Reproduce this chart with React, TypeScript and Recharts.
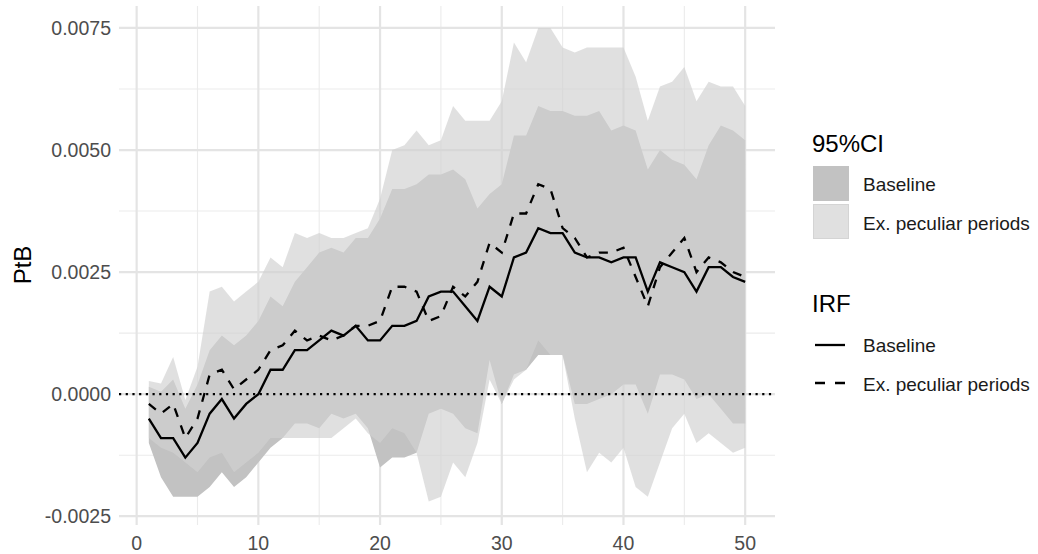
import React from 'react';
import { ComposedChart, Area, Line, XAxis, YAxis, CartesianGrid, ReferenceLine } from 'recharts';

const font = '"Liberation Sans", Arial, Helvetica, sans-serif';

// horizon (steps after the shock)
const steps = [
  1, 2, 3, 4, 5, 6, 7, 8, 9, 10,
  11, 12, 13, 14, 15, 16, 17, 18, 19, 20,
  21, 22, 23, 24, 25, 26, 27, 28, 29, 30,
  31, 32, 33, 34, 35, 36, 37, 38, 39, 40,
  41, 42, 43, 44, 45, 46, 47, 48, 49, 50,
];

// IRF, baseline (solid)
const irfBaseline = [
  -0.0005, -0.0009, -0.0009, -0.0013, -0.0010, -0.0004, -0.0001, -0.0005, -0.0002, 0.0000,
  0.0005, 0.0005, 0.0009, 0.0009, 0.0011, 0.0013, 0.0012, 0.0014, 0.0011, 0.0011,
  0.0014, 0.0014, 0.0015, 0.0020, 0.0021, 0.0021, 0.0018, 0.0015, 0.0022, 0.0020,
  0.0028, 0.0029, 0.0034, 0.0033, 0.0033, 0.0029, 0.0028, 0.0028, 0.0027, 0.0028,
  0.0028, 0.0021, 0.0027, 0.0026, 0.0025, 0.0021, 0.0026, 0.0026, 0.0024, 0.0023,
];

// IRF, ex. peculiar periods (dashed)
const irfExPeculiar = [
  -0.0002, -0.0004, -0.0002, -0.0009, -0.0005, 0.0004, 0.0005, 0.0001, 0.0003, 0.0005,
  0.0009, 0.0010, 0.0013, 0.0011, 0.0012, 0.0011, 0.0012, 0.0014, 0.0014, 0.0015,
  0.0022, 0.0022, 0.0021, 0.0015, 0.0016, 0.0022, 0.0020, 0.0023, 0.0031, 0.0029,
  0.0037, 0.0037, 0.0043, 0.0042, 0.0034, 0.0032, 0.0028, 0.0029, 0.0029, 0.0030,
  0.0024, 0.0018, 0.0026, 0.0029, 0.0032, 0.0025, 0.0028, 0.0027, 0.0025, 0.0024,
];

// 95% CI, baseline
const baseUpper = [
  0.00015, 0.00005, 0.0003, -0.0003, 0.0002, 0.0009, 0.0012, 0.0010, 0.0012, 0.0015,
  0.0020, 0.0018, 0.0023, 0.0026, 0.0029, 0.0030, 0.0029, 0.0032, 0.0032, 0.0036,
  0.0042, 0.0042, 0.0043, 0.0045, 0.0045, 0.0046, 0.0044, 0.0038, 0.0041, 0.0043,
  0.0053, 0.0053, 0.0059, 0.0058, 0.0058, 0.0057, 0.0057, 0.0058, 0.0054, 0.0055,
  0.0054, 0.0046, 0.0050, 0.0048, 0.0047, 0.0044, 0.0051, 0.0055, 0.0054, 0.0052,
];
const baseLower = [
  -0.0010, -0.0017, -0.0021, -0.0021, -0.0021, -0.0019, -0.0016, -0.0019, -0.0017, -0.0014,
  -0.0011, -0.0009, -0.0006, -0.0006, -0.0007, -0.0004, -0.0005, -0.0004, -0.0007, -0.0015,
  -0.0013, -0.0013, -0.0012, -0.0004, -0.0003, -0.0004, -0.0007, -0.0008, 0.0007, -0.0002,
  0.0004, 0.0005, 0.0008, 0.0008, 0.0008, -0.0002, -0.0002, -0.0001, 0.0000, 0.0002,
  0.0002, -0.0004, 0.0004, 0.0004, 0.0003, -0.0001, 0.0000, -0.0003, -0.0006, -0.0006,
];

// 95% CI, ex. peculiar periods
const exUpper = [
  0.00027, 0.00022, 0.00076, -0.00012, 0.00056, 0.0021, 0.0022, 0.0019, 0.0021, 0.0023,
  0.0028, 0.0026, 0.0033, 0.0032, 0.0033, 0.0032, 0.0032, 0.0033, 0.0034, 0.0040,
  0.0050, 0.0051, 0.0054, 0.0051, 0.0052, 0.0059, 0.0056, 0.0056, 0.0056, 0.0060,
  0.0072, 0.0068, 0.0075, 0.0075, 0.0071, 0.0070, 0.0071, 0.0071, 0.0071, 0.0071,
  0.0065, 0.0056, 0.0063, 0.0064, 0.0067, 0.0060, 0.0064, 0.0063, 0.0063, 0.0059,
];
const exLower = [
  -0.0009, -0.0011, -0.0012, -0.0014, -0.0016, -0.0013, -0.0012, -0.0016, -0.0014, -0.0012,
  -0.0009, -0.0009, -0.0009, -0.0009, -0.0009, -0.0009, -0.0007, -0.0005, -0.0008, -0.0010,
  -0.0007, -0.0008, -0.0012, -0.0022, -0.0021, -0.0014, -0.0017, -0.0010, 0.0003, -0.0002,
  0.0003, 0.0005, 0.0011, 0.0008, 0.0008, -0.0005, -0.0016, -0.0012, -0.0014, -0.0011,
  -0.0019, -0.0021, -0.0014, -0.0007, -0.0004, -0.0010, -0.0008, -0.0010, -0.0012, -0.0011,
];

const xTicks = [0, 10, 20, 30, 40, 50];
const yTicks = [-0.0025, 0, 0.0025, 0.005, 0.0075];
const xMinor = [5, 15, 25, 35, 45];
const yMinor = [-0.00125, 0.00125, 0.00375, 0.00625];

const data = steps.map((s, i) => ({
  step: s,
  baseBand: [baseLower[i], baseUpper[i]],
  exBand: [exLower[i], exUpper[i]],
  irfBaseline: irfBaseline[i],
  irfExPeculiar: irfExPeculiar[i],
}));

function LegendOverlay() {
  return (
    <svg
      width={1038}
      height={554}
      style={{ position: 'absolute', left: 0, top: 0, pointerEvents: 'none' }}
      fontFamily={font}
    >
      <text x={31} y={265} transform="rotate(-90 31 265)" textAnchor="middle" fontSize={24} fill="#000">
        PtB
      </text>

      <text x={812} y={152} fontSize={24} fill="#000">95%CI</text>
      <rect x={813} y={166} width={36} height={35} fill="#c2c2c2" />
      <rect x={813.5} y={204.5} width={35} height={34} fill="#e0e0e0" stroke="#d4d4d4" strokeWidth={1} />
      <text x={863} y={191} fontSize={19} fill="#1a1a1a">Baseline</text>
      <text x={863} y={229.5} fontSize={19} fill="#1a1a1a">Ex. peculiar periods</text>

      <text x={812} y={312} fontSize={24} fill="#000">IRF</text>
      <line x1={815} y1={345} x2={845} y2={345} stroke="#000" strokeWidth={2.3} />
      <line x1={815} y1={383} x2={845} y2={383} stroke="#000" strokeWidth={2.3} strokeDasharray="10 10" />
      <text x={863} y={352} fontSize={19} fill="#1a1a1a">Baseline</text>
      <text x={863} y={390.5} fontSize={19} fill="#1a1a1a">Ex. peculiar periods</text>
    </svg>
  );
}

export default function App() {
  const tickStyle = { fill: '#4d4d4d', fontSize: 19.5, fontFamily: font };
  return (
    <div style={{ position: 'absolute', left: 0, top: 0, width: 1038, height: 554, background: '#fff' }}>
      <ComposedChart width={1038} height={554} data={data} margin={{ top: 6, right: 263, bottom: 0, left: 0 }}>
        {/* minor grid */}
        <CartesianGrid
          horizontalValues={yMinor}
          verticalValues={xMinor}
          syncWithTicks
          stroke="#ebebeb"
          strokeWidth={1.1}
        />
        {/* major grid, only at the ticks (no panel border) */}
        <CartesianGrid
          horizontalValues={yTicks}
          verticalValues={xTicks}
          syncWithTicks
          stroke="#e4e4e4"
          strokeWidth={2.2}
        />
        <XAxis
          dataKey="step"
          type="number"
          domain={[-1.45, 52.45]}
          ticks={xTicks}
          allowDataOverflow
          axisLine={false}
          tickLine={false}
          tickSize={0}
          tickMargin={11}
          height={29}
          tick={tickStyle}
        />
        <YAxis
          type="number"
          domain={[-0.00268, 0.00795]}
          ticks={yTicks}
          allowDataOverflow
          axisLine={false}
          tickLine={false}
          tickSize={0}
          tickMargin={8}
          width={119}
          tick={tickStyle}
          tickFormatter={(v: number) => v.toFixed(4)}
        />
        <Area
          dataKey="baseBand"
          type="linear"
          stroke="none"
          fill="#c2c2c2"
          fillOpacity={1}
          isAnimationActive={false}
        />
        <Area
          dataKey="exBand"
          type="linear"
          stroke="none"
          fill="rgb(209,209,209)"
          fillOpacity={0.67}
          isAnimationActive={false}
        />
        <ReferenceLine y={0} stroke="#000" strokeWidth={2.2} strokeDasharray="2.2 4.5" />
        <Line
          dataKey="irfBaseline"
          type="linear"
          stroke="#000"
          strokeWidth={2.3}
          dot={false}
          isAnimationActive={false}
        />
        <Line
          dataKey="irfExPeculiar"
          type="linear"
          stroke="#000"
          strokeWidth={2.3}
          strokeDasharray="9 9"
          dot={false}
          isAnimationActive={false}
        />
      </ComposedChart>
      <LegendOverlay />
    </div>
  );
}
